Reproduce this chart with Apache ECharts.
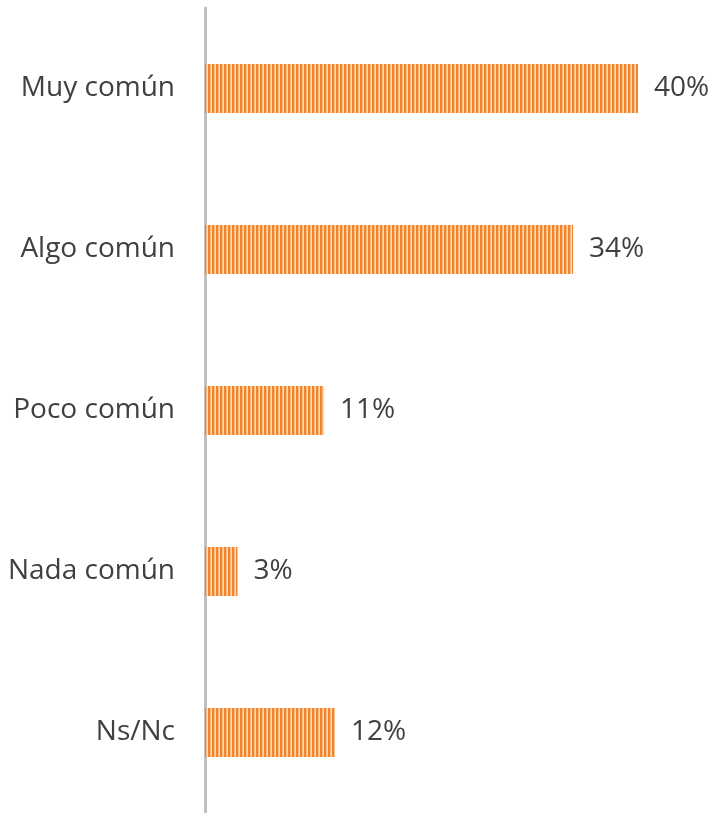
<!DOCTYPE html>
<html>
<head>
<meta charset="utf-8">
<script src="https://cdn.jsdelivr.net/npm/echarts@6/dist/echarts.min.js"></script>
<style>
  html, body { margin: 0; padding: 0; background: #fff; }
  #chart { width: 713px; height: 813px; }
</style>
</head>
<body>
<div id="chart"></div>
<script>
// Categories, top to bottom
const categories = ['Muy común', 'Algo común', 'Poco común', 'Nada común', 'Ns/Nc'];
// Share of responses (%)
const values = [40, 34, 11, 3, 12];

// Vertical-stripe fill for the bars
function stripePattern() {
  const c = document.createElement('canvas');
  c.width = 4; c.height = 4;
  const ctx = c.getContext('2d');
  ctx.fillStyle = '#fcdcc0';
  ctx.fillRect(0, 0, 4, 4);
  ctx.fillStyle = '#f4842c';
  ctx.fillRect(0, 0, 2.4, 4);
  return c;
}

const chart = echarts.init(document.getElementById('chart'), null, { renderer: 'canvas' });
chart.setOption({
  animation: false,
  grid: { left: 205, top: 8, width: 433, height: 809, containLabel: false },
  xAxis: {
    type: 'value', min: 0, max: 40,
    show: false
  },
  yAxis: {
    type: 'category',
    data: categories.slice().reverse(),
    axisLine: { show: true, lineStyle: { color: '#bfbfbf', width: 3 } },
    axisTick: { show: false },
    axisLabel: {
      color: '#404040', fontSize: 28, margin: 30,
      padding: [5, 0, 0, 0],
      fontFamily: '"Open Sans", sans-serif'
    }
  },
  series: [{
    type: 'bar',
    data: values.slice().reverse(),
    barWidth: 49,
    itemStyle: { color: { image: stripePattern(), repeat: 'repeat' } },
    label: {
      show: true, position: 'right', distance: 16,
      padding: [6, 0, 0, 0],
      formatter: p => p.value + '%',
      color: '#404040', fontSize: 28,
      fontFamily: '"Open Sans", sans-serif'
    }
  }]
});
</script>
</body>
</html>
